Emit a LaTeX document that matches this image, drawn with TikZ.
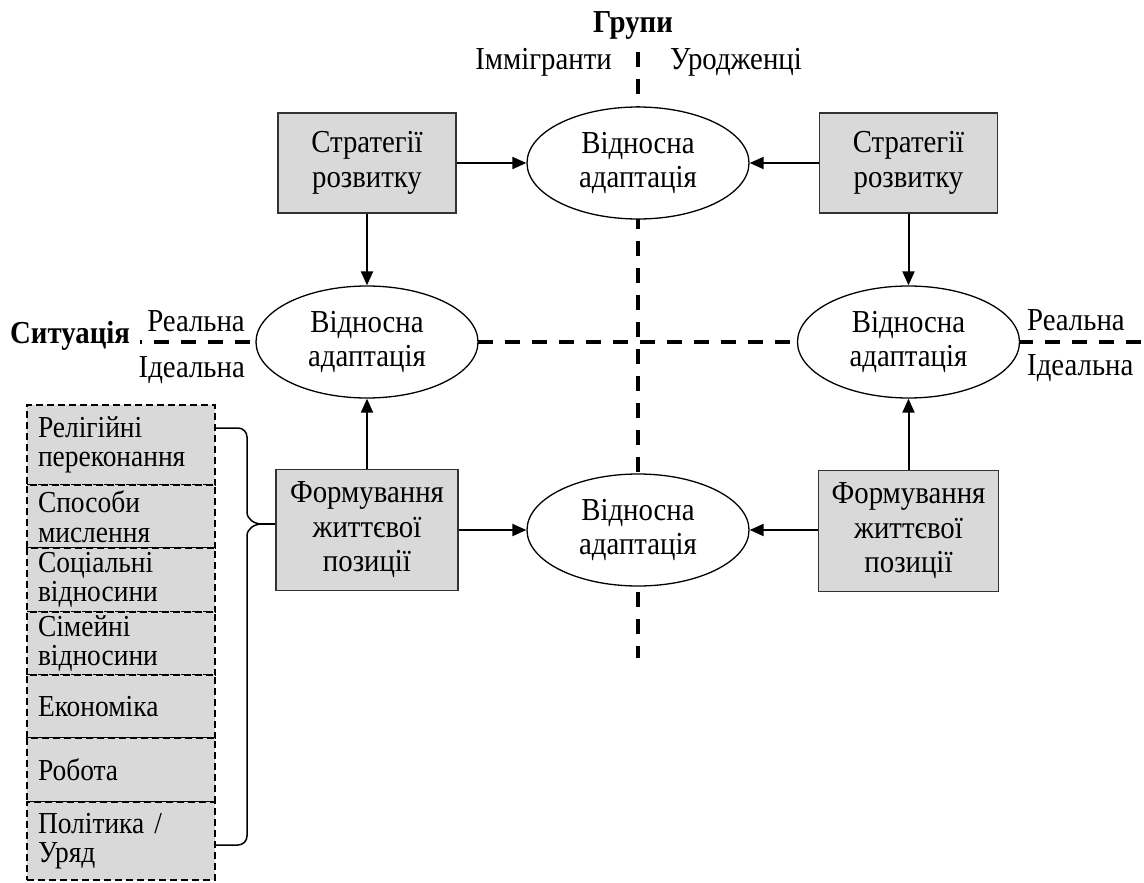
\documentclass[tikz,border=0pt]{standalone}
\usepackage{fontspec}
\setmainfont{Liberation Serif}[FakeStretch=0.9]
\usetikzlibrary{arrows.meta,shapes.geometric}
\begin{document}
\begin{tikzpicture}[x=1pt,y=-1pt,
  every node/.style={font=\fontsize{32}{34.5}\selectfont},
  graybox/.style={draw=black!80, line width=1.8pt, fill=black!15, inner sep=0pt, align=center},
  ovl/.style={ellipse, draw, line width=1.3pt, fill=white, inner sep=0pt, minimum width=222pt, minimum height=112pt, align=center},
  axisline/.style={line width=3.5pt, dash pattern=on 15pt off 12pt},
  arr/.style={line width=2pt, -{Triangle[length=14pt,width=12pt]}},
  factor/.style={draw, dash pattern=on 7pt off 4pt, line width=1.5pt, fill=black!15, inner xsep=11pt, inner ysep=0pt, text width=166pt, align=left, font=\fontsize{30.5}{29.5}\selectfont},
  lbl/.style={inner sep=0pt},
  bracepath/.style={line width=1.5pt}
]
\useasboundingbox (0,0) rectangle (1144,883);

% axes
\coordinate (vtop) at (638,52);
\coordinate (vbot) at (638,658);
\coordinate (hleft) at (140,342);
\coordinate (hright) at (1144,342);
\draw[axisline] (vtop) -- (vbot);
\draw[axisline, dash phase=13pt] (hleft) -- (hright);

% axis labels
\node[lbl, font=\bfseries\fontsize{32}{34}\selectfont, anchor=base] (grupy) at (633,33) {Групи};
\node[lbl, anchor=base east] (immig) at (612,70) {Іммігранти};
\node[lbl, anchor=base west] (urodz) at (670,70) {Уродженці};
\node[lbl, font=\bfseries\fontsize{32}{34}\selectfont, anchor=base west] (sytuacia) at (10,343) {Ситуація};
\node[lbl, anchor=base east] (realL) at (245,331) {Реальна};
\node[lbl, anchor=base east] (idealL) at (245,377) {Ідеальна};
\node[lbl, anchor=base west] (realR) at (1027,330) {Реальна};
\node[lbl, anchor=base west] (idealR) at (1027,375) {Ідеальна};

% ellipses
\node[ovl] (top) at (638,163) {Відносна\\адаптація};
\node[ovl] (ml) at (367,342) {Відносна\\адаптація};
\node[ovl] (mr) at (908.5,342) {Відносна\\адаптація};
\node[ovl] (bot) at (638,530) {Відносна\\адаптація};

% gray boxes
\node[graybox, minimum width=178pt, minimum height=100pt] (sl) at (367,163) {Стратегії\\розвитку};
\node[graybox, minimum width=178pt, minimum height=100pt] (sr) at (908.5,163) {Стратегії\\розвитку};
\node[graybox, minimum width=182pt, minimum height=121pt] (fl) at (367,530) {Формування\\життєвої\\позиції};
\node[graybox, minimum width=180pt, minimum height=121pt] (fr) at (908.5,531) {Формування\\життєвої\\позиції};

% arrows
\draw[arr] (sl) -- (top);
\draw[arr] (sr) -- (top);
\draw[arr] (sl) -- (ml);
\draw[arr] (sr) -- (mr);
\draw[arr] (fl) -- (ml);
\draw[arr] (fr) -- (mr);
\draw[arr] (fl) -- (bot);
\draw[arr] (fr.west |- bot.east) -- (bot.east);

% factor boxes
\node[factor, minimum height=80pt] (f1) at (121,445) {Релігійні\\переконання};
\node[factor, minimum height=63pt] (f2) at (121,516.5) {Способи\\мислення};
\node[factor, minimum height=64pt] (f3) at (121,580) {Соціальні\\відносини};
\node[factor, minimum height=63pt] (f4) at (121,643.5) {Сімейні\\відносини};
\node[factor, minimum height=63pt] (f5) at (121,706.5) {Економіка};
\node[factor, minimum height=64pt] (f6) at (121,770) {Робота};
\node[factor, minimum height=78pt] (f7) at (121,841) {Політика /\\Уряд};

% brace
\coordinate (btop) at (215,428);
\coordinate (bbot) at (215,845);
\coordinate (tip) at (262,524);
\draw[bracepath] (btop) -- (238,428) to[out=0,in=90] (247,437) -- (247,512) to[out=-90,in=180] (tip);
\draw[bracepath] (tip) to[out=180,in=90] (247,536) -- (247,836) to[out=-90,in=0] (238,845) -- (bbot);
\draw[bracepath] (tip) -- (tip -| fl.west);
\end{tikzpicture}
\end{document}
